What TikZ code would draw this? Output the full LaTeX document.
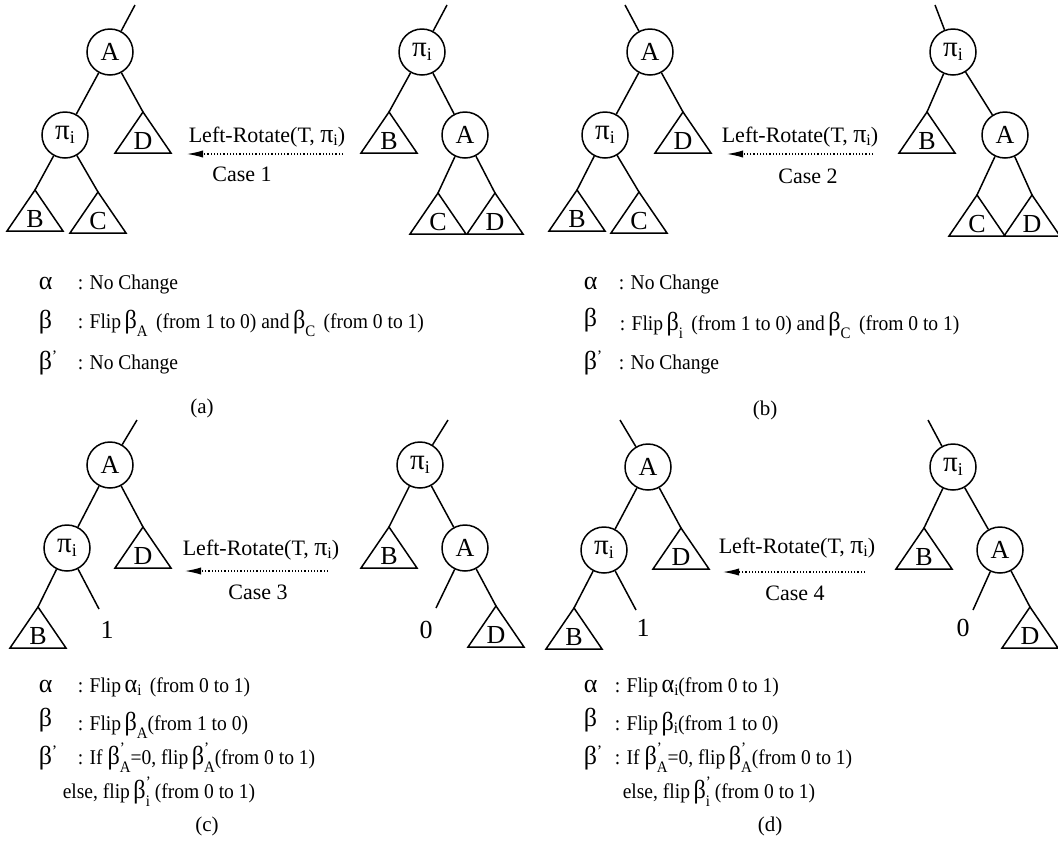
\documentclass[tikz,border=0pt]{standalone}
\usepackage{fontspec}
\setmainfont{Liberation Serif}
\newfontfamily\cond[FakeStretch=0.93]{Liberation Serif}
\usetikzlibrary{arrows.meta}
\newcommand{\gsym}[1]{{\fontsize{13}{13}\selectfont #1}}
\newcommand{\gl}[3]{\gsym{#1}\makebox[0pt][l]{\raisebox{1.1ex}{\footnotesize #2}}\raisebox{-0.85ex}{\footnotesize #3}}
\newcommand{\gi}[1]{\gsym{#1}\raisebox{-0.35ex}{\footnotesize i}}
\newcommand{\pii}{\gsym{π}\raisebox{-0.35ex}{\footnotesize i}}
\newcommand{\npi}{{\fontsize{14.5}{14}\selectfont π}\raisebox{-0.35ex}{\small i}}
\newcommand{\bp}{\gsym{β}\raisebox{0.8ex}{\footnotesize ’}}
\tikzset{
  pics/subtree/.style={code={
    \coordinate (-top) at (0,0);
    \draw (-28,41) -- (0,0) -- (28,41) -- cycle;
    \node[inner sep=0pt,anchor=base,font=\fontsize{13}{13}\selectfont] (-lab) at (0,37) {#1};
  }}
}
\begin{document}
\begin{tikzpicture}[x=0.5pt,y=-0.5pt,line width=0.75pt,
  nd/.style={draw,circle,minimum size=23pt,inner sep=0pt,font=\fontsize{13}{13}\selectfont},
  lbl/.style={font=\fontsize{11}{13}\selectfont,inner sep=0pt},
  txt/.style={anchor=base west,inner sep=0pt,font=\cond\fontsize{10.5}{12}\selectfont},
  subcap/.style={anchor=base,inner sep=0pt,font=\fontsize{10.5}{12}\selectfont},
  sym/.style={anchor=base west,inner sep=0pt},
  leaf/.style={inner sep=0pt,font=\fontsize{13}{13}\selectfont},
  rot/.style={line width=0.6pt,densely dotted,-{Latex[length=8pt,width=3.6pt]}}]
\useasboundingbox (0,0) rectangle (1058,863);

% ---------------- (a) ----------------
\coordinate (a1t) at (135,5);
\node[nd] (a1A) at (110,52) {A};
\node[nd] (a1p) at (65,135) {\npi};
\pic (a1D) at (143,112) {subtree=D};
\pic (a1B) at (35,190) {subtree=B};
\pic (a1C) at (98,192) {subtree=C};
\draw (a1t) -- (a1A);
\draw (a1A) -- (a1p);
\draw (a1A) -- (a1D-top);
\draw (a1p) -- (a1B-top);
\draw (a1p) -- (a1C-top);

\coordinate (a2t) at (447,5);
\node[nd] (a2p) at (422,52) {\npi};
\pic (a2B) at (389,112) {subtree=B};
\node[nd] (a2A) at (465,135) {A};
\pic (a2C) at (438,193) {subtree=C};
\pic (a2D) at (495,193) {subtree=D};
\draw (a2t) -- (a2p);
\draw (a2p) -- (a2B-top);
\draw (a2p) -- (a2A);
\draw (a2A) -- (a2C-top);
\draw (a2A) -- (a2D-top);

\coordinate (a3s) at (343,154);
\coordinate (a3e) at (187,154);
\draw[rot] (a3s) -- (a3e);
\node[lbl] (a3l) at (267,137) {Left-Rotate(T, \pii)};
\node[lbl] (a3c) at (242,174) {Case 1};

\node[sym] (a4s1) at (38,289) {\gsym{α}};
\node[txt] (a4t1) at (77,289) {: No Change};
\node[sym] (a4s2) at (38,328) {\gsym{β}};
\node[txt] (a4t2) at (77,328) {: Flip\,\gl{β}{}{A}\, (from 1 to 0) and\,\gl{β}{}{C}\, (from 0 to 1)};
\node[sym] (a4s3) at (38,369) {\bp};
\node[txt] (a4t3) at (77,369) {: No Change};
\node[subcap] (a4c) at (202,413) {(a)};

% ---------------- (b) ----------------
\coordinate (b1t) at (625,5);
\node[nd] (b1A) at (650,52) {A};
\node[nd] (b1p) at (605,135) {\npi};
\pic (b1D) at (683,112) {subtree=D};
\pic (b1B) at (577,190) {subtree=B};
\pic (b1C) at (639,192) {subtree=C};
\draw (b1t) -- (b1A);
\draw (b1A) -- (b1p);
\draw (b1A) -- (b1D-top);
\draw (b1p) -- (b1B-top);
\draw (b1p) -- (b1C-top);

\coordinate (b2t) at (935,5);
\node[nd] (b2p) at (953,52) {\npi};
\pic (b2B) at (927,112) {subtree=B};
\node[nd] (b2A) at (1005,135) {A};
\pic (b2C) at (977,195) {subtree=C};
\pic (b2D) at (1032,195) {subtree=D};
\draw (b2t) -- (b2p);
\draw (b2p) -- (b2B-top);
\draw (b2p) -- (b2A);
\draw (b2A) -- (b2C-top);
\draw (b2A) -- (b2D-top);

\coordinate (b3s) at (873,154);
\coordinate (b3e) at (727,154);
\draw[rot] (b3s) -- (b3e);
\node[lbl] (b3l) at (800,137) {Left-Rotate(T, \pii)};
\node[lbl] (b3c) at (808,176) {Case 2};

\node[sym] (b4s1) at (583,289) {\gsym{α}};
\node[txt] (b4t1) at (618,289) {: No Change};
\node[sym] (b4s2) at (583,326) {\gsym{β}};
\node[txt] (b4t2) at (619,330) {: Flip\,\gl{β}{}{i}\, (from 1 to 0) and\,\gl{β}{}{C}\, (from 0 to 1)};
\node[sym] (b4s3) at (583,369) {\bp};
\node[txt] (b4t3) at (618,369) {: No Change};
\node[subcap] (b4c) at (765,415) {(b)};

% ---------------- (c) ----------------
\coordinate (c1t) at (137,420);
\node[nd] (c1A) at (110,465) {A};
\node[nd] (c1p) at (67,548) {\npi};
\pic (c1D) at (143,527) {subtree=D};
\pic (c1B) at (38,607) {subtree=B};
\coordinate (c1e) at (99,609);
\node[leaf] (c1one) at (107,630) {1};
\draw (c1t) -- (c1A);
\draw (c1A) -- (c1p);
\draw (c1A) -- (c1D-top);
\draw (c1p) -- (c1B-top);
\draw (c1p) -- (c1e);

\coordinate (c2t) at (448,420);
\node[nd] (c2p) at (420,465) {\npi};
\pic (c2B) at (389,527) {subtree=B};
\node[nd] (c2A) at (465,548) {A};
\coordinate (c2e) at (436,608);
\node[leaf] (c2zero) at (426,630) {0};
\pic (c2D) at (496,606) {subtree=D};
\draw (c2t) -- (c2p);
\draw (c2p) -- (c2B-top);
\draw (c2p) -- (c2A);
\draw (c2A) -- (c2e);
\draw (c2A) -- (c2D-top);

\coordinate (c3s) at (328,571);
\coordinate (c3e) at (185,571);
\draw[rot] (c3s) -- (c3e);
\node[lbl] (c3l) at (261,550) {Left-Rotate(T, \pii)};
\node[lbl] (c3c) at (258,592) {Case 3};

\node[sym] (c4s1) at (38,692) {\gsym{α}};
\node[txt] (c4t1) at (77,692) {: Flip\,\gi{α}\, (from 0 to 1)};
\node[sym] (c4s2) at (38,726) {\gsym{β}};
\node[txt] (c4t2) at (77,730) {: Flip\,\gl{β}{}{A}(from 1 to 0)};
\node[sym] (c4s3) at (38,764) {\bp};
\node[txt] (c4t3) at (77,764) {: If \gl{β}{’}{A}=0, flip\,\gl{β}{’}{A}(from 0 to 1)};
\node[txt] (c4t4) at (62,798) {else, flip\,\gl{β}{’}{i} (from 0 to 1)};
\node[subcap] (c4c) at (207,831) {(c)};

% ---------------- (d) ----------------
\coordinate (d1t) at (620,420);
\node[nd] (d1A) at (648,467) {A};
\node[nd] (d1p) at (604,550) {\npi};
\pic (d1D) at (681,528) {subtree=D};
\pic (d1B) at (574,608) {subtree=B};
\coordinate (d1e) at (636,610);
\node[leaf] (d1one) at (643,628) {1};
\draw (d1t) -- (d1A);
\draw (d1A) -- (d1p);
\draw (d1A) -- (d1D-top);
\draw (d1p) -- (d1B-top);
\draw (d1p) -- (d1e);

\coordinate (d2t) at (928,420);
\node[nd] (d2p) at (953,467) {\npi};
\pic (d2B) at (924,528) {subtree=B};
\node[nd] (d2A) at (1000,550) {A};
\coordinate (d2e) at (973,610);
\node[leaf] (d2zero) at (963,628) {0};
\pic (d2D) at (1030,607) {subtree=D};
\draw (d2t) -- (d2p);
\draw (d2p) -- (d2B-top);
\draw (d2p) -- (d2A);
\draw (d2A) -- (d2e);
\draw (d2A) -- (d2D-top);

\coordinate (d3s) at (865,572);
\coordinate (d3e) at (723,572);
\draw[rot] (d3s) -- (d3e);
\node[lbl] (d3l) at (797,548) {Left-Rotate(T, \pii)};
\node[lbl] (d3c) at (795,593) {Case 4};

\node[sym] (d4s1) at (583,692) {\gsym{α}};
\node[txt] (d4t1) at (614,692) {: Flip\,\gi{α}(from 0 to 1)};
\node[sym] (d4s2) at (583,726) {\gsym{β}};
\node[txt] (d4t2) at (614,730) {: Flip\,\gi{β}(from 1 to 0)};
\node[sym] (d4s3) at (583,764) {\bp};
\node[txt] (d4t3) at (614,764) {: If \gl{β}{’}{A}=0, flip\,\gl{β}{’}{A}(from 0 to 1)};
\node[txt] (d4t4) at (622,798) {else, flip\,\gl{β}{’}{i} (from 0 to 1)};
\node[subcap] (d4c) at (770,831) {(d)};
\end{tikzpicture}
\end{document}
